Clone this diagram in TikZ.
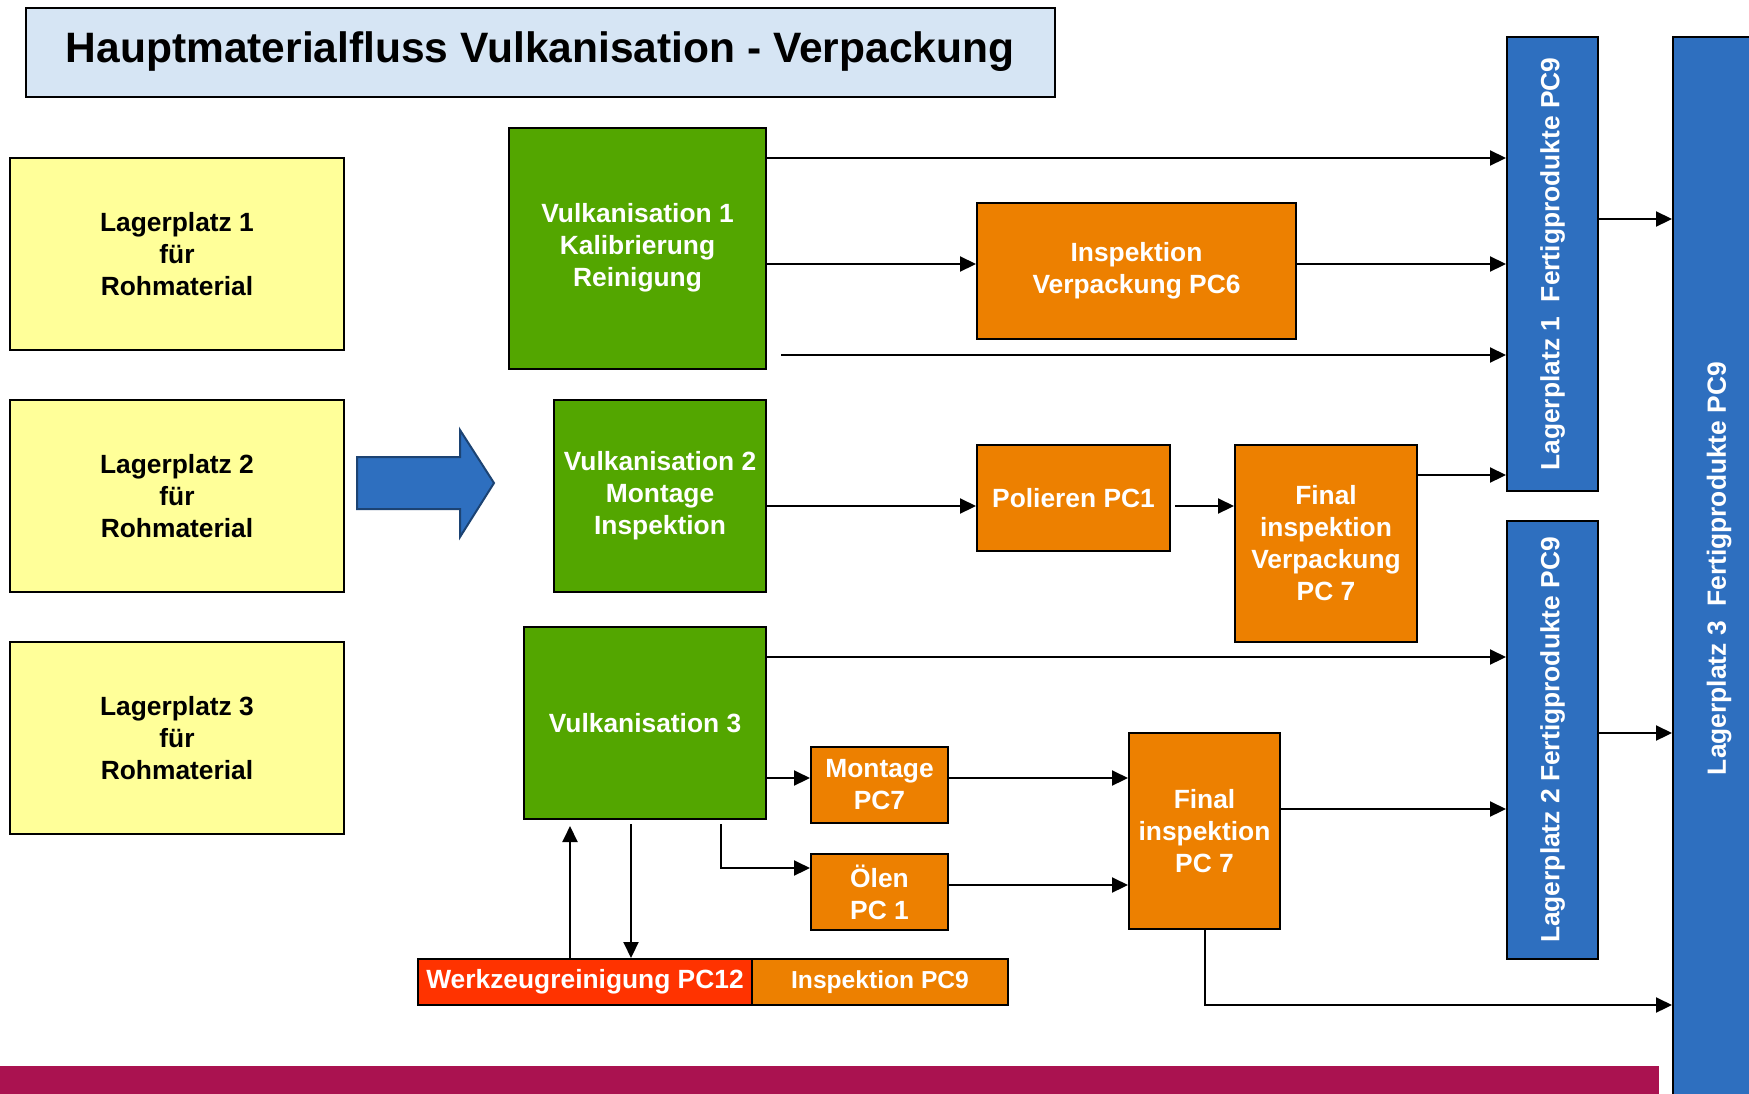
\documentclass[tikz,border=0pt]{standalone}
\usepackage{fontspec}
\usepackage{graphicx}
\setmainfont{Liberation Sans}
\usetikzlibrary{arrows.meta}

\definecolor{gelb}{RGB}{255,255,153}
\definecolor{gruen}{RGB}{83,166,0}
\definecolor{orangebox}{RGB}{237,128,0}
\definecolor{rotbox}{RGB}{255,51,0}
\definecolor{blau}{RGB}{46,111,191}
\definecolor{titelblau}{RGB}{214,229,244}
\definecolor{bandrot}{RGB}{170,18,80}

\begin{document}
\begin{tikzpicture}[
  x=0.1mm, y=-0.1mm,
  line width=0.2mm,
  >={Triangle[length=1.6mm,width=1.5mm]},
  block/.style = {
    draw,
    shape=rectangle,
    inner sep=0pt,
    align=center,
    font=\bfseries\fontsize{7.5}{9.1}\selectfont
  },
  lager/.style = {
    block,
    fill=gelb,
    minimum width=33.4mm,
    minimum height=19.2mm
  },
  vulk/.style = {block, fill=gruen, text=white},
  arbeit/.style = {block, fill=orangebox, text=white},
  lagerfp/.style = {block, fill=blau, text=white, minimum width=9.1mm},
]
  \useasboundingbox (0,0) rectangle (1749,1093);
  \clip (0,0) rectangle (1749,1093);

  \node (titel)[
    block,
    fill=titelblau,
    minimum width=102.9mm,
    minimum height=8.9mm,
    font=\bfseries\fontsize{12.1}{14}\selectfont
  ] at (540,52) {\raisebox{-0.5mm}{Hauptmaterialfluss Vulkanisation - Verpackung}};

  \node (lager1)[lager] at (177,254) {Lagerplatz 1\\für\\Rohmaterial};
  \node (lager2)[lager] at (177,496) {Lagerplatz 2\\für\\Rohmaterial};
  \node (lager3)[lager] at (177,738) {Lagerplatz 3\\für\\Rohmaterial};

  \draw[fill=blau, draw=blau!60!black]
    (357,457) -- (460,457) -- (460,430) -- (494,483)
    -- (460,537) -- (460,509) -- (357,509) -- cycle;

  \node (vulk1)[
    vulk,
    minimum width=25.7mm,
    minimum height=24.1mm
  ] at (637.5,248.5) {\raisebox{-0.4mm}{\begin{tabular}{@{}c@{}}Vulkanisation 1\\Kalibrierung\\Reinigung\end{tabular}}};
  \node (vulk2)[
    vulk,
    minimum width=21.2mm,
    minimum height=19.2mm
  ] at (660,496) {Vulkanisation 2\\Montage\\Inspektion};
  \node (vulk3)[
    vulk,
    minimum width=24.2mm,
    minimum height=19.2mm
  ] at (645,723) {Vulkanisation 3};

  \node (insp6)[
    arbeit,
    minimum width=31.9mm,
    minimum height=13.6mm
  ] at (1136.5,271) {Inspektion\\Verpackung PC6};
  \node (polieren)[
    arbeit,
    minimum width=19.3mm,
    minimum height=10.6mm
  ] at (1073.5,498) {Polieren PC1};
  \node (final1)[
    arbeit,
    minimum width=18.2mm,
    minimum height=19.7mm
  ] at (1326,543.5) {Final\\inspektion\\Verpackung\\PC 7};
  \node (montage)[
    arbeit,
    minimum width=13.7mm,
    minimum height=7.6mm
  ] at (879.5,785) {Montage\\PC7};
  \node (oelen)[
    arbeit,
    minimum width=13.7mm,
    minimum height=7.6mm
  ] at (879.5,892) {Ölen\\PC 1};
  \node (final2)[
    arbeit,
    minimum width=15.1mm,
    minimum height=19.6mm
  ] at (1204.5,831) {Final\\inspektion\\PC 7};
  \node (werkzeug)[
    block,
    fill=rotbox,
    text=white,
    minimum width=33.4mm,
    minimum height=4.6mm
  ] at (585,982) {Werkzeugreinigung PC12};
  \node (insp9)[
    arbeit,
    minimum width=25.6mm,
    minimum height=4.6mm,
    font=\bfseries\fontsize{7}{8.5}\selectfont
  ] at (880,982) {Inspektion PC9};

  \node (lp1)[
    lagerfp,
    minimum height=45.4mm
  ] at (1552.5,264) {\rotatebox{90}{Lagerplatz 1\ \ Fertigprodukte PC9}};
  \node (lp2)[
    lagerfp,
    minimum height=43.8mm
  ] at (1552.5,740) {\rotatebox{90}{Lagerplatz 2 Fertigprodukte PC9}};
  \node (lp3)[
    lagerfp,
    minimum width=9.2mm,
    minimum height=106.3mm
  ] at (1719,568.5) {\rotatebox{90}{Lagerplatz 3\ \ Fertigprodukte PC9}};

  \fill[bandrot] (0,1066) rectangle (1659,1100);

  \draw[->] (vulk1.east |- 0,158) -- (lp1.west |- 0,158);
  \draw[->] (vulk1.east |- 0,264) -- (insp6.west |- 0,264);
  \draw[->] (insp6.east |- 0,264) -- (lp1.west |- 0,264);
  \coordinate (frei) at (781,355);
  \draw[->] (frei) -- (lp1.west |- frei);
  \draw[->] (vulk2.east |- 0,506) -- (polieren.west |- 0,506);
  \draw[->,shorten <=0.4mm] (polieren.east |- 0,506) -- (final1.west |- 0,506);
  \draw[->] (final1.east |- 0,475) -- (lp1.west |- 0,475);
  \draw[->] (vulk3.east |- 0,657) -- (lp2.west |- 0,657);
  \draw[->] (vulk3.east |- 0,778) -- (montage.west |- 0,778);
  \draw[->,shorten <=0.4mm] (vulk3.south -| 721,0) |- (oelen.west |- 0,868);
  \draw[->] (montage.east |- 0,778) -- (final2.west |- 0,778);
  \draw[->] (oelen.east |- 0,885) -- (final2.west |- 0,885);
  \draw[->] (final2.east |- 0,809) -- (lp2.west |- 0,809);
  \draw[->] (final2.south) |- (lp3.west |- 0,1005);
  \draw[->] (lp1.east |- 0,219) -- (lp3.west |- 0,219);
  \draw[->] (lp2.east |- 0,733) -- (lp3.west |- 0,733);
  \draw[->,shorten >=0.6mm] (werkzeug.north -| 570,0) -- (vulk3.south -| 570,0);
  \draw[->,shorten <=0.4mm] (vulk3.south -| 631,0) -- (werkzeug.north -| 631,0);
\end{tikzpicture}
\end{document}
